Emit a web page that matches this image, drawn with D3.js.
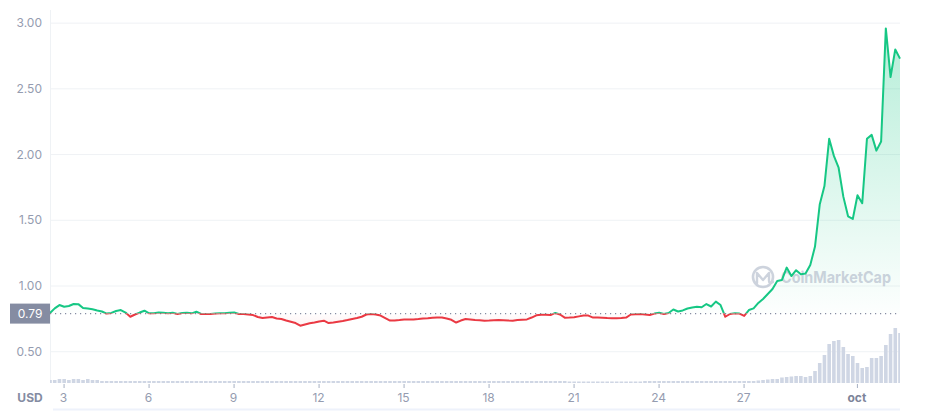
<!DOCTYPE html>
<html>
<head>
<meta charset="utf-8">
<script src="https://cdn.jsdelivr.net/npm/d3@7"></script>
<style>
  html, body { margin: 0; padding: 0; background: #fff; }
  svg { display: block; font-family: Inter, 'Noto Sans', sans-serif; }
</style>
</head>
<body>
<div id="chart"></div>
<script>
// 4-hourly samples, starting Sep 2 12:30
const startTime = new Date(2021, 8, 2, 12, 30)
const stepHours = 4
const refPrice = 0.79

const prices = [
  0.795, 0.83, 0.855, 0.842, 0.848, 0.863, 0.862, 0.832, 0.828, 0.823,
  0.814, 0.806, 0.79, 0.795, 0.81, 0.817, 0.798, 0.766, 0.783, 0.798,
  0.812, 0.792, 0.792, 0.798, 0.797, 0.792, 0.797, 0.787, 0.795, 0.797,
  0.792, 0.804, 0.787, 0.787, 0.787, 0.79, 0.792, 0.792, 0.797, 0.798,
  0.787, 0.787, 0.783, 0.779, 0.764, 0.756, 0.76, 0.764, 0.753, 0.749,
  0.737, 0.728, 0.718, 0.698, 0.707, 0.716, 0.722, 0.73, 0.736, 0.718,
  0.722, 0.728, 0.734, 0.741, 0.749, 0.756, 0.766, 0.783, 0.787, 0.783,
  0.775, 0.756, 0.737, 0.737, 0.741, 0.746, 0.745, 0.746, 0.749, 0.753,
  0.754, 0.758, 0.76, 0.76, 0.753, 0.743, 0.722, 0.737, 0.749, 0.745,
  0.741, 0.739, 0.736, 0.737, 0.739, 0.741, 0.739, 0.737, 0.736, 0.741,
  0.744, 0.746, 0.76, 0.777, 0.782, 0.782, 0.779, 0.795, 0.783, 0.759,
  0.76, 0.762, 0.769, 0.775, 0.775, 0.76, 0.76, 0.759, 0.756, 0.754,
  0.754, 0.756, 0.76, 0.783, 0.785, 0.787, 0.783, 0.779, 0.79, 0.797,
  0.787, 0.795, 0.821, 0.806, 0.814, 0.829, 0.836, 0.842, 0.838, 0.863,
  0.844, 0.881, 0.855, 0.766, 0.787, 0.792, 0.79, 0.772, 0.817, 0.83,
  0.871, 0.901, 0.939, 0.977, 1.038, 1.046, 1.14, 1.076, 1.12, 1.09,
  1.095, 1.16, 1.30, 1.62, 1.76, 2.12, 1.99, 1.90, 1.68, 1.53,
  1.51, 1.69, 1.63, 2.12, 2.15, 2.03, 2.10, 2.96, 2.59, 2.80,
  2.73
]

// trading volume, millions USD
const volumes = [
  3, 3, 4, 4, 3, 4, 4, 3, 4, 3,
  3, 2, 2, 2, 2, 2, 2, 2, 2, 2,
  2, 2, 2, 2, 2, 2, 2, 2, 2, 2,
  2, 2, 2, 2, 2, 2, 2, 2, 2, 2,
  2, 2, 2, 2, 2, 2, 2, 2, 2, 2,
  2, 2, 2, 2, 2, 2, 2, 2, 2, 2,
  2, 2, 2, 2, 2, 2, 2, 2, 2, 2,
  2, 2, 2, 2, 2, 2, 2, 2, 2, 2,
  2, 2, 2, 2, 2, 2, 2, 2, 2, 2,
  2, 2, 2, 2, 2, 2, 2, 2, 2, 2,
  2, 2, 2, 2, 2, 2, 2, 2, 2, 2,
  1.5, 1.5, 1.5, 1.5, 1.5, 1.5, 1.5, 1.5, 1.5, 1.5,
  1.5, 1.5, 1.5, 1.5, 1.5, 1.5, 2, 2, 2, 2,
  2, 2, 2, 2, 2, 2, 2, 2, 2, 2,
  2, 2, 2, 2, 2, 2, 2, 2, 2, 2,
  2.5, 3, 3.5, 4, 4, 5.5, 6, 6.5, 7, 7,
  6, 7, 12, 20, 28, 39, 42, 43, 36, 29,
  27, 20, 15, 16, 25, 25, 27, 38, 49, 55,
  50
]

const yTicks = [0.5, 1.0, 1.5, 2.0, 2.5, 3.0]
const xTickDates = [
  new Date(2021, 8, 3), new Date(2021, 8, 6), new Date(2021, 8, 9),
  new Date(2021, 8, 12), new Date(2021, 8, 15), new Date(2021, 8, 18),
  new Date(2021, 8, 21), new Date(2021, 8, 24), new Date(2021, 8, 27),
  new Date(2021, 9, 1)
]
const xTickLabels = ['3', '6', '9', '12', '15', '18', '21', '24', '27', 'oct']

const data = prices.map((p, i) => ({
  t: d3.timeHour.offset(startTime, i * stepHours),
  price: p,
  volume: volumes[i]
}))

const width = 925
const height = 411
const plotLeft = 50
const plotRight = 900
const plotTop = 10
const plotBottom = 383

const green = '#16c784'
const red = '#ea3943'

const svg = d3.select('#chart')
  .append('svg')
  .attr('width', width)
  .attr('height', height)

const x = d3.scaleTime()
  .domain([startTime, d3.timeHour.offset(startTime, 720)])
  .range([plotLeft, plotRight])

const y = d3.scaleLinear()
  .domain([0.262, 3.10])
  .range([plotBottom, plotTop])

const yVol = d3.scaleLinear()
  .domain([0, 56])
  .range([0, 56])

const defs = svg.append('defs')
defs.append('clipPath').attr('id', 'plot')
  .append('rect').attr('x', plotLeft).attr('y', plotTop)
  .attr('width', plotRight - plotLeft).attr('height', plotBottom - plotTop)
defs.append('clipPath').attr('id', 'above')
  .append('rect').attr('x', 0).attr('y', 0).attr('width', width).attr('height', y(refPrice))
defs.append('clipPath').attr('id', 'below')
  .append('rect').attr('x', 0).attr('y', y(refPrice)).attr('width', width).attr('height', height - y(refPrice))

const gUp = defs.append('linearGradient').attr('id', 'gUp')
  .attr('gradientUnits', 'userSpaceOnUse')
  .attr('x1', 0).attr('x2', 0).attr('y1', y(3.0)).attr('y2', y(refPrice))
gUp.append('stop').attr('offset', 0).attr('stop-color', green).attr('stop-opacity', 0.32)
gUp.append('stop').attr('offset', 1).attr('stop-color', green).attr('stop-opacity', 0.01)

const gDown = defs.append('linearGradient').attr('id', 'gDown')
  .attr('gradientUnits', 'userSpaceOnUse')
  .attr('x1', 0).attr('x2', 0).attr('y1', y(refPrice)).attr('y2', y(0.6))
gDown.append('stop').attr('offset', 0).attr('stop-color', red).attr('stop-opacity', 0.01)
gDown.append('stop').attr('offset', 1).attr('stop-color', red).attr('stop-opacity', 0.12)

// grid + axis line
svg.append('g')
  .selectAll('line')
  .data(yTicks)
  .join('line')
  .attr('x1', plotLeft)
  .attr('x2', plotRight)
  .attr('y1', d => y(d))
  .attr('y2', d => y(d))
  .attr('stroke', '#eff2f5')
  .attr('stroke-width', 1)

svg.append('line')
  .attr('x1', plotLeft + 0.5).attr('x2', plotLeft + 0.5)
  .attr('y1', plotTop).attr('y2', plotBottom)
  .attr('stroke', '#eff2f5')

svg.append('g')
  .selectAll('text')
  .data(yTicks)
  .join('text')
  .attr('x', 42)
  .attr('y', d => y(d))
  .attr('dy', '0.35em')
  .attr('text-anchor', 'end')
  .attr('font-size', 12)
  .attr('fill', '#959cb0')
  .text(d => d3.format('.2f')(d))

// volume
const step = x(data[1].t) - x(data[0].t)
svg.append('g')
  .attr('clip-path', 'url(#plot)')
  .selectAll('rect')
  .data(data)
  .join('rect')
  .attr('x', d => x(d.t) - step * 0.38)
  .attr('width', step * 0.76)
  .attr('y', d => plotBottom - yVol(d.volume))
  .attr('height', d => yVol(d.volume))
  .attr('fill', '#cfd6e4')

// area
const area = d3.area()
  .x(d => x(d.t))
  .y0(y(refPrice))
  .y1(d => y(d.price))

svg.append('path')
  .datum(data)
  .attr('clip-path', 'url(#above)')
  .attr('fill', 'url(#gUp)')
  .attr('d', area)

svg.append('path')
  .datum(data)
  .attr('clip-path', 'url(#below)')
  .attr('fill', 'url(#gDown)')
  .attr('d', area)

// watermark
const wm = svg.append('g').attr('opacity', 0.55)
wm.append('circle')
  .attr('cx', 763).attr('cy', 277).attr('r', 10)
  .attr('fill', 'none').attr('stroke', '#a6b0c3').attr('stroke-width', 2.6)
wm.append('path')
  .attr('d', 'M757,283 L757,273 L763,280 L769,273 L769,281 Q769,284 773,282')
  .attr('fill', 'none').attr('stroke', '#a6b0c3').attr('stroke-width', 2.4)
  .attr('stroke-linejoin', 'round').attr('stroke-linecap', 'round')
wm.append('text')
  .attr('x', 781).attr('y', 283)
  .attr('font-size', 16).attr('font-weight', 700)
  .attr('textLength', 110).attr('lengthAdjust', 'spacingAndGlyphs')
  .attr('fill', '#a6b0c3')
  .text('CoinMarketCap')

// reference dotted line
svg.append('line')
  .attr('x1', plotLeft).attr('x2', plotRight)
  .attr('y1', y(refPrice)).attr('y2', y(refPrice))
  .attr('stroke', '#858ca2')
  .attr('stroke-width', 1.2)
  .attr('stroke-dasharray', '1.2,3.8')

// price line
const line = d3.line()
  .x(d => x(d.t))
  .y(d => y(d.price))

svg.append('path')
  .datum(data)
  .attr('clip-path', 'url(#above)')
  .attr('fill', 'none')
  .attr('stroke', green)
  .attr('stroke-width', 2)
  .attr('stroke-linejoin', 'round')
  .attr('d', line)

svg.append('path')
  .datum(data)
  .attr('clip-path', 'url(#below)')
  .attr('fill', 'none')
  .attr('stroke', red)
  .attr('stroke-width', 2)
  .attr('stroke-linejoin', 'round')
  .attr('d', line)

// reference price label
svg.append('rect')
  .attr('x', 10).attr('y', y(refPrice) - 10)
  .attr('width', plotLeft - 10).attr('height', 20)
  .attr('fill', '#858ca2')
svg.append('text')
  .attr('x', 30).attr('y', y(refPrice))
  .attr('dy', '0.35em')
  .attr('text-anchor', 'middle')
  .attr('font-size', 12)
  .attr('fill', '#fff')
  .text(d3.format('.2f')(refPrice))

// x axis
const xAxis = svg.append('g')
xAxis.selectAll('line')
  .data(xTickDates)
  .join('line')
  .attr('x1', d => x(d) + 0.5)
  .attr('x2', d => x(d) + 0.5)
  .attr('y1', plotBottom + 1)
  .attr('y2', plotBottom + 5)
  .attr('stroke', '#a6b0c3')

xAxis.selectAll('text')
  .data(xTickDates)
  .join('text')
  .attr('x', d => x(d))
  .attr('y', 398)
  .attr('dy', '0.35em')
  .attr('text-anchor', 'middle')
  .attr('font-size', 12)
  .attr('font-weight', (d, i) => xTickLabels[i] === 'oct' ? 700 : 400)
  .attr('fill', (d, i) => xTickLabels[i] === 'oct' ? '#7d8499' : '#959cb0')
  .text((d, i) => xTickLabels[i])

svg.append('text')
  .attr('x', 30).attr('y', 398)
  .attr('dy', '0.35em')
  .attr('text-anchor', 'middle')
  .attr('font-size', 12)
  .attr('font-weight', 700)
  .attr('fill', '#858ca2')
  .text('USD')

svg.append('line')
  .attr('x1', 53).attr('x2', plotRight)
  .attr('y1', 409.5).attr('y2', 409.5)
  .attr('stroke', '#eef2fb')
  .attr('stroke-width', 2)
</script>
</body>
</html>
